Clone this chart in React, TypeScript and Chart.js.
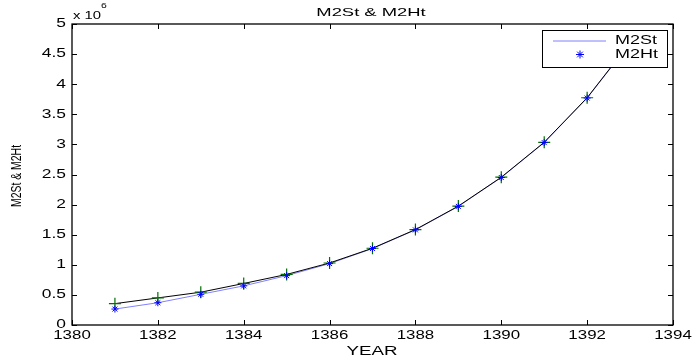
import React, { useEffect, useRef } from 'react';
import { Chart, registerables } from 'chart.js';

Chart.register(...registerables);

// ---- data ----
const years = [1381, 1382, 1383, 1384, 1385, 1386, 1387, 1388, 1389, 1390, 1391, 1392, 1393];
const m2St = [265000, 370000, 510000, 650000, 820000, 1020000, 1270000, 1580000, 1970000, 2450000, 3030000, 3770000, 4680000];
const m2Ht = [265000, 370000, 510000, 650000, 820000, 1020000, 1270000, 1580000, 1970000, 2450000, 3030000, 3770000, 4680000];
const fitted = [355000, 450000, 545000, 690000, 840000, 1030000, 1275000, 1585000, 1975000, 2455000, 3035000, 3775000, 4690000];

const xTicks = [1380, 1382, 1384, 1386, 1388, 1390, 1392, 1394];
const xTickLabels = ['1380', '1382', '1384', '1386', '1388', '1390', '1392', '1394'];
const yTicks = [0, 500000, 1000000, 1500000, 2000000, 2500000, 3000000, 3500000, 4000000, 4500000, 5000000];
const yTickLabels = ['0', '0.5', '1', '1.5', '2', '2.5', '3', '3.5', '4', '4.5', '5'];

const titleText = 'M2St & M2Ht';
const xTitle = 'YEAR';
const yTitle = 'M2St & M2Ht';

const FONT = '"Liberation Sans", Arial, Helvetica, sans-serif';

function drawText(
  ctx: CanvasRenderingContext2D,
  text: string,
  x: number,
  y: number,
  size: number,
  sx: number,
  align: 'left' | 'center' | 'right',
  baseline: CanvasTextBaseline = 'middle'
) {
  ctx.save();
  ctx.font = `${size}px ${FONT}`;
  ctx.textBaseline = baseline;
  ctx.textAlign = 'left';
  ctx.fillStyle = '#000';
  const w = ctx.measureText(text).width * sx;
  const left = align === 'left' ? x : align === 'center' ? x - w / 2 : x - w;
  ctx.translate(left, y);
  ctx.scale(sx, 1);
  ctx.fillText(text, 0, 0);
  ctx.restore();
}

function drawStar(ctx: CanvasRenderingContext2D, x: number, y: number, r: number) {
  ctx.beginPath();
  for (let i = 0; i < 4; i++) {
    const a = (i * Math.PI) / 4;
    ctx.moveTo(x - Math.cos(a) * r, y - Math.sin(a) * r);
    ctx.lineTo(x + Math.cos(a) * r, y + Math.sin(a) * r);
  }
  ctx.stroke();
}

const framePlugin = {
  id: 'matlabFrame',
  afterDatasetsDraw(chart: any) {
    const ctx: CanvasRenderingContext2D = chart.ctx;
    const { left, right, top, bottom } = chart.chartArea;
    const xs = chart.scales.x;
    const ys = chart.scales.y;

    // legend box (drawn over data)
    const ds = chart.data.datasets;
    const stLine = ds.find((d: any) => d.label === 'M2St');
    const htMark = ds.find((d: any) => d.label === 'M2Ht');
    const lx = 542, ly = 30, lw = 125, lh = 37;
    ctx.save();
    ctx.fillStyle = '#fff';
    ctx.fillRect(lx, ly, lw, lh);
    ctx.strokeStyle = '#000';
    ctx.lineWidth = 1;
    ctx.strokeRect(lx + 0.5, ly + 0.5, lw, lh);
    ctx.strokeStyle = stLine.borderColor;
    ctx.beginPath();
    ctx.moveTo(553, 41);
    ctx.lineTo(606, 41);
    ctx.stroke();
    ctx.strokeStyle = htMark.borderColor;
    drawStar(ctx, 580, 54.5, 4);
    ctx.restore();
    drawText(ctx, stLine.label, 615, 41, 12, 1.5, 'left');
    drawText(ctx, htMark.label, 615, 54.5, 12, 1.5, 'left');

    // frame
    ctx.save();
    ctx.strokeStyle = '#000';
    ctx.lineWidth = 1.3;
    ctx.strokeRect(left, top, right - left, bottom - top);
    ctx.lineWidth = 1;
    ctx.beginPath();
    xTicks.forEach((v) => {
      const px = Math.round(xs.getPixelForValue(v)) + 0.5;
      ctx.moveTo(px, bottom);
      ctx.lineTo(px, bottom - 5);
      ctx.moveTo(px, top);
      ctx.lineTo(px, top + 5);
    });
    yTicks.forEach((v) => {
      const py = Math.round(ys.getPixelForValue(v)) + 0.5;
      ctx.moveTo(left, py);
      ctx.lineTo(left + 5, py);
      ctx.moveTo(right, py);
      ctx.lineTo(right - 5, py);
    });
    ctx.stroke();
    ctx.restore();

    // tick labels
    xTicks.forEach((v, i) => {
      drawText(ctx, xTickLabels[i], xs.getPixelForValue(v), 336, 12.5, 1.35, 'center');
    });
    yTicks.forEach((v, i) => {
      drawText(ctx, yTickLabels[i], left - 6, ys.getPixelForValue(v), 12, 1.45, 'right');
    });

    // exponent
    drawText(ctx, 'x 10', 73, 16, 11, 1.35, 'left');
    drawText(ctx, '6', 101, 6, 8, 1.3, 'left');

    // titles
    drawText(ctx, titleText, 371, 12.5, 11.5, 1.6, 'center');
    drawText(ctx, xTitle, 372, 351.5, 12.5, 1.5, 'center');

    ctx.save();
    ctx.translate(17.5, (top + bottom) / 2 + 1.5);
    ctx.rotate(-Math.PI / 2);
    ctx.scale(1, 1.3);
    drawText(ctx, yTitle, 0, 0, 11, 0.95, 'center');
    ctx.restore();
  },
};

export default function App() {
  const ref = useRef<HTMLCanvasElement | null>(null);

  useEffect(() => {
    if (!ref.current) return;
    const toPts = (vals: number[]) => years.map((y, i) => ({ x: y, y: vals[i] }));
    const chart = new Chart(ref.current, {
      type: 'line',
      data: {
        datasets: [
          {
            label: 'M2Ht',
            data: toPts(m2Ht),
            showLine: false,
            pointStyle: 'star',
            pointRadius: 3.5,
            pointBorderWidth: 1,
            borderColor: '#0000ff',
            backgroundColor: '#0000ff',
            order: 0,
          },
          {
            label: '',
            data: toPts(fitted),
            showLine: false,
            pointStyle: 'cross',
            pointRadius: 6,
            pointBorderWidth: 1.2,
            borderColor: '#007000',
            backgroundColor: '#007000',
            order: 1,
          },
          {
            label: '',
            data: toPts(fitted),
            borderColor: '#000000',
            borderWidth: 1,
            pointRadius: 0,
            fill: false,
            order: 2,
          },
          {
            label: 'M2St',
            data: toPts(m2St),
            borderColor: '#8080ff',
            borderWidth: 1,
            pointRadius: 0,
            fill: false,
            order: 3,
          },
        ],
      },
      options: {
        responsive: false,
        animation: false,
        layout: { padding: { left: 72, top: 24, right: 20, bottom: 35 } },
        scales: {
          x: { type: 'linear', min: 1380, max: 1394, display: false },
          y: { type: 'linear', min: 0, max: 5000000, display: false },
        },
        plugins: {
          legend: { display: false },
          tooltip: { enabled: false },
          title: { display: false },
        },
      },
      plugins: [framePlugin],
    });
    return () => chart.destroy();
  }, []);

  return (
    <div style={{ position: 'fixed', left: 0, top: 0, width: 693, height: 360, background: '#fff' }}>
      <canvas ref={ref} width={693} height={360} />
    </div>
  );
}
